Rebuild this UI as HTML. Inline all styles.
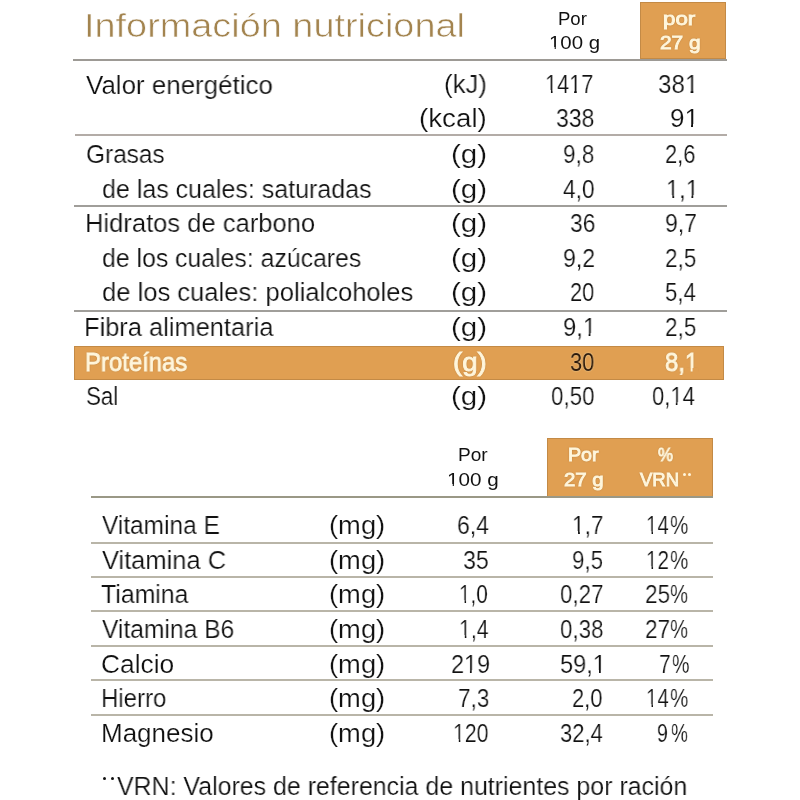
<!DOCTYPE html><html><head><meta charset="utf-8"><style>
html,body{margin:0;padding:0;background:#fff;width:800px;height:800px;overflow:hidden;position:relative}
.t{position:absolute;font-family:"Liberation Sans", sans-serif;line-height:1;white-space:pre;transform-origin:0 0;will-change:transform}
.r{position:absolute}
.o1{position:relative}
.o1::before,.o1::after{content:"";position:absolute;background:var(--bg);bottom:0;height:0.33em}
.o1::before{left:0;width:0.252em}
.o1::after{left:0.338em;width:0.23em}
</style></head><body>
<div class="r" style="left:640.00px;top:2.00px;width:86.00px;height:56.50px;background:#e09f52;box-shadow:inset 0 0 0 1px rgba(140,100,50,0.35);"></div>
<div class="r" style="left:74.20px;top:346.00px;width:650.30px;height:34.00px;background:#e09f52;box-shadow:inset 0 0 0 1px rgba(140,100,50,0.35);"></div>
<div class="r" style="left:546.50px;top:437.50px;width:166.00px;height:59.00px;background:#e09f52;box-shadow:inset 0 0 0 1px rgba(140,100,50,0.35);"></div>
<div class="r" style="left:73.00px;top:58.50px;width:653.50px;height:2.00px;background:#9d9a95;"></div>
<div class="r" style="left:75.00px;top:133.50px;width:651.50px;height:2.00px;background:#b3aca7;"></div>
<div class="r" style="left:73.50px;top:205.00px;width:653.00px;height:2.00px;background:#a09e9a;"></div>
<div class="r" style="left:73.50px;top:310.00px;width:653.00px;height:2.00px;background:#a09e9a;"></div>
<div class="r" style="left:91.00px;top:495.50px;width:621.50px;height:2.00px;background:#9a9886;"></div>
<div class="r" style="left:91.00px;top:541.50px;width:621.50px;height:2.00px;background:#b9b5a8;"></div>
<div class="r" style="left:91.00px;top:575.80px;width:621.50px;height:2.00px;background:#b9b5a8;"></div>
<div class="r" style="left:91.00px;top:610.00px;width:621.50px;height:2.00px;background:#b9b5a8;"></div>
<div class="r" style="left:91.00px;top:644.70px;width:621.50px;height:2.00px;background:#b9b5a8;"></div>
<div class="r" style="left:91.00px;top:679.25px;width:621.50px;height:2.00px;background:#b9b5a8;"></div>
<div class="r" style="left:91.00px;top:714.25px;width:621.50px;height:2.00px;background:#b9b5a8;"></div>
<div class="r" style="left:102.90px;top:776.90px;width:3.20px;height:3.20px;border-radius:50%;background:#111111"></div>
<div class="r" style="left:110.90px;top:776.90px;width:3.20px;height:3.20px;border-radius:50%;background:#111111"></div>
<div class="r" style="left:682.50px;top:473.00px;width:3.00px;height:3.00px;border-radius:50%;background:#fff6dc"></div>
<div class="r" style="left:688.00px;top:473.00px;width:3.00px;height:3.00px;border-radius:50%;background:#fff6dc"></div>
<div class="t" id="i0" style="left:83.85px;top:8.73px;font-size:33.4px;color:#a3844f;-webkit-text-stroke:0.6px #fff;transform:scaleX(1.1339);">Información nutricional</div>
<div class="t" id="i1" style="left:557.87px;top:10.26px;font-size:18px;color:#111111;transform:scaleX(1.0298);">Por</div>
<div class="t" id="i2" style="left:548.80px;top:34.26px;font-size:18px;color:#111111;transform:scaleX(1.1334);"><span class="o1" style="--bg:#fff">1</span>00 g</div>
<div class="t" id="i3" style="left:663.13px;top:10.26px;font-size:18px;color:#fff6dc;-webkit-text-stroke:0.9px #fff6dc;text-shadow:0 0 1.5px rgba(100,60,15,0.75);transform:scaleX(1.2403);">por</div>
<div class="t" id="i4" style="left:660.00px;top:34.26px;font-size:18px;color:#fff6dc;-webkit-text-stroke:0.9px #fff6dc;text-shadow:0 0 1.5px rgba(100,60,15,0.75);transform:scaleX(1.1589);">27 g</div>
<div class="t" id="i5" style="left:86.00px;top:72.09px;font-size:26px;color:#111111;-webkit-text-stroke:0.2px #fff;transform:scaleX(0.9968);">Valor energético</div>
<div class="t" id="i6" style="left:443.76px;top:71.09px;font-size:26px;color:#111111;-webkit-text-stroke:0.2px #fff;transform:scaleX(0.9879);">(kJ)</div>
<div class="t" id="i7" style="left:545.35px;top:71.09px;font-size:26px;color:#111111;-webkit-text-stroke:0.2px #fff;transform:scaleX(0.8334);"><span class="o1" style="--bg:#fff">1</span>4<span class="o1" style="--bg:#fff">1</span>7</div>
<div class="t" id="i8" style="left:657.95px;top:71.09px;font-size:26px;color:#111111;-webkit-text-stroke:0.2px #fff;transform:scaleX(0.9298);">38<span class="o1" style="--bg:#fff">1</span></div>
<div class="t" id="i9" style="left:418.87px;top:105.09px;font-size:26px;color:#111111;-webkit-text-stroke:0.2px #fff;transform:scaleX(1.0667);">(kcal)</div>
<div class="t" id="i10" style="left:556.40px;top:105.09px;font-size:26px;color:#111111;-webkit-text-stroke:0.2px #fff;transform:scaleX(0.8830);">338</div>
<div class="t" id="i11" style="left:670.00px;top:105.09px;font-size:26px;color:#111111;-webkit-text-stroke:0.2px #fff;transform:scaleX(1.0005);">9<span class="o1" style="--bg:#fff">1</span></div>
<div class="t" id="i12" style="left:85.59px;top:141.09px;font-size:26px;color:#111111;-webkit-text-stroke:0.2px #fff;transform:scaleX(0.9391);">Grasas</div>
<div class="t" id="i13" style="left:451.47px;top:141.09px;font-size:26px;color:#111111;-webkit-text-stroke:0.2px #fff;transform:scaleX(1.1357);">(g)</div>
<div class="t" id="i14" style="left:563.14px;top:141.09px;font-size:26px;color:#111111;-webkit-text-stroke:0.2px #fff;transform:scaleX(0.8648);">9,8</div>
<div class="t" id="i15" style="left:664.59px;top:141.09px;font-size:26px;color:#111111;-webkit-text-stroke:0.2px #fff;transform:scaleX(0.8412);">2,6</div>
<div class="t" id="i16" style="left:102.04px;top:175.59px;font-size:26px;color:#111111;-webkit-text-stroke:0.2px #fff;transform:scaleX(0.9612);">de las cuales: saturadas</div>
<div class="t" id="i17" style="left:451.47px;top:175.59px;font-size:26px;color:#111111;-webkit-text-stroke:0.2px #fff;transform:scaleX(1.1357);">(g)</div>
<div class="t" id="i18" style="left:563.27px;top:175.59px;font-size:26px;color:#111111;-webkit-text-stroke:0.2px #fff;transform:scaleX(0.8707);">4,0</div>
<div class="t" id="i19" style="left:665.69px;top:175.59px;font-size:26px;color:#111111;-webkit-text-stroke:0.2px #fff;transform:scaleX(0.9073);"><span class="o1" style="--bg:#fff">1</span>,<span class="o1" style="--bg:#fff">1</span></div>
<div class="t" id="i20" style="left:84.74px;top:209.84px;font-size:26px;color:#111111;-webkit-text-stroke:0.2px #fff;transform:scaleX(0.9827);">Hidratos de carbono</div>
<div class="t" id="i21" style="left:451.47px;top:209.84px;font-size:26px;color:#111111;-webkit-text-stroke:0.2px #fff;transform:scaleX(1.1357);">(g)</div>
<div class="t" id="i22" style="left:569.83px;top:209.84px;font-size:26px;color:#111111;-webkit-text-stroke:0.2px #fff;transform:scaleX(0.8752);">36</div>
<div class="t" id="i23" style="left:665.12px;top:209.84px;font-size:26px;color:#111111;-webkit-text-stroke:0.2px #fff;transform:scaleX(0.8826);">9,7</div>
<div class="t" id="i24" style="left:102.05px;top:244.84px;font-size:26px;color:#111111;-webkit-text-stroke:0.2px #fff;transform:scaleX(0.9541);">de los cuales: azúcares</div>
<div class="t" id="i25" style="left:451.47px;top:244.84px;font-size:26px;color:#111111;-webkit-text-stroke:0.2px #fff;transform:scaleX(1.1357);">(g)</div>
<div class="t" id="i26" style="left:562.96px;top:244.84px;font-size:26px;color:#111111;-webkit-text-stroke:0.2px #fff;transform:scaleX(0.8882);">9,2</div>
<div class="t" id="i27" style="left:665.14px;top:244.84px;font-size:26px;color:#111111;-webkit-text-stroke:0.2px #fff;transform:scaleX(0.8647);">2,5</div>
<div class="t" id="i28" style="left:102.02px;top:279.09px;font-size:26px;color:#111111;-webkit-text-stroke:0.2px #fff;transform:scaleX(0.9834);">de los cuales: polialcoholes</div>
<div class="t" id="i29" style="left:451.47px;top:279.09px;font-size:26px;color:#111111;-webkit-text-stroke:0.2px #fff;transform:scaleX(1.1357);">(g)</div>
<div class="t" id="i30" style="left:569.88px;top:279.09px;font-size:26px;color:#111111;-webkit-text-stroke:0.2px #fff;transform:scaleX(0.8371);">20</div>
<div class="t" id="i31" style="left:665.15px;top:279.09px;font-size:26px;color:#111111;-webkit-text-stroke:0.2px #fff;transform:scaleX(0.8532);">5,4</div>
<div class="t" id="i32" style="left:84.45px;top:313.59px;font-size:26px;color:#111111;-webkit-text-stroke:0.2px #fff;transform:scaleX(0.9781);">Fibra alimentaria</div>
<div class="t" id="i33" style="left:451.47px;top:313.59px;font-size:26px;color:#111111;-webkit-text-stroke:0.2px #fff;transform:scaleX(1.1357);">(g)</div>
<div class="t" id="i34" style="left:563.09px;top:313.59px;font-size:26px;color:#111111;-webkit-text-stroke:0.2px #fff;transform:scaleX(0.9134);">9,<span class="o1" style="--bg:#fff">1</span></div>
<div class="t" id="i35" style="left:665.14px;top:313.59px;font-size:26px;color:#111111;-webkit-text-stroke:0.2px #fff;transform:scaleX(0.8647);">2,5</div>
<div class="t" id="i36" style="left:84.87px;top:349.09px;font-size:26px;color:#fff6dc;-webkit-text-stroke:0.9px #fff6dc;text-shadow:0 0 1.5px rgba(100,60,15,0.75);transform:scaleX(0.9193);">Proteínas</div>
<div class="t" id="i37" style="left:452.71px;top:349.09px;font-size:26px;color:#fff6dc;-webkit-text-stroke:0.9px #fff6dc;text-shadow:0 0 1.5px rgba(100,60,15,0.75);transform:scaleX(1.0600);">(g)</div>
<div class="t" id="i38" style="left:570.16px;top:349.09px;font-size:26px;color:#2e1a0a;text-shadow:0 0 1.5px rgba(255,240,200,1);transform:scaleX(0.8371);">30</div>
<div class="t" id="i39" style="left:664.81px;top:349.09px;font-size:26px;color:#fff6dc;-webkit-text-stroke:0.9px #fff6dc;text-shadow:0 0 1.5px rgba(100,60,15,0.75);transform:scaleX(0.9167);">8,<span class="o1" style="--bg:#e09f52">1</span></div>
<div class="t" id="i40" style="left:85.97px;top:383.09px;font-size:26px;color:#111111;-webkit-text-stroke:0.2px #fff;transform:scaleX(0.8596);">Sal</div>
<div class="t" id="i41" style="left:451.47px;top:383.09px;font-size:26px;color:#111111;-webkit-text-stroke:0.2px #fff;transform:scaleX(1.1357);">(g)</div>
<div class="t" id="i42" style="left:550.85px;top:383.09px;font-size:26px;color:#111111;-webkit-text-stroke:0.2px #fff;transform:scaleX(0.8593);">0,50</div>
<div class="t" id="i43" style="left:652.44px;top:383.09px;font-size:26px;color:#111111;-webkit-text-stroke:0.2px #fff;transform:scaleX(0.8470);">0,<span class="o1" style="--bg:#fff">1</span>4</div>
<div class="t" id="i44" style="left:457.55px;top:446.46px;font-size:18px;color:#111111;transform:scaleX(1.0594);">Por</div>
<div class="t" id="i45" style="left:447.39px;top:471.26px;font-size:18px;color:#111111;transform:scaleX(1.1476);"><span class="o1" style="--bg:#fff">1</span>00 g</div>
<div class="t" id="i46" style="left:568.37px;top:446.46px;font-size:18px;color:#fff6dc;-webkit-text-stroke:0.9px #fff6dc;text-shadow:0 0 1.5px rgba(100,60,15,0.75);transform:scaleX(1.0927);">Por</div>
<div class="t" id="i47" style="left:564.21px;top:471.26px;font-size:18px;color:#fff6dc;-webkit-text-stroke:0.9px #fff6dc;text-shadow:0 0 1.5px rgba(100,60,15,0.75);transform:scaleX(1.1324);">27 g</div>
<div class="t" id="i48" style="left:658.27px;top:446.46px;font-size:18px;color:#fff6dc;-webkit-text-stroke:0.9px #fff6dc;text-shadow:0 0 1.5px rgba(100,60,15,0.75);transform:scaleX(0.9375);">%</div>
<div class="t" id="i49" style="left:640.48px;top:471.26px;font-size:18px;color:#fff6dc;-webkit-text-stroke:0.9px #fff6dc;text-shadow:0 0 1.5px rgba(100,60,15,0.75);transform:scaleX(1.0272);">VRN</div>
<div class="t" id="i50" style="left:102.00px;top:512.39px;font-size:26px;color:#111111;-webkit-text-stroke:0.2px #fff;transform:scaleX(0.9403);">Vitamina E</div>
<div class="t" id="i51" style="left:328.98px;top:512.39px;font-size:26px;color:#111111;-webkit-text-stroke:0.2px #fff;transform:scaleX(1.0520);">(mg)</div>
<div class="t" id="i52" style="left:456.54px;top:512.39px;font-size:26px;color:#111111;-webkit-text-stroke:0.2px #fff;transform:scaleX(0.8824);">6,4</div>
<div class="t" id="i53" style="left:571.97px;top:512.39px;font-size:26px;color:#111111;-webkit-text-stroke:0.2px #fff;transform:scaleX(0.8688);"><span class="o1" style="--bg:#fff">1</span>,7</div>
<div class="t" id="i54" style="left:645.91px;top:512.39px;font-size:26px;color:#111111;-webkit-text-stroke:0.2px #fff;transform:scaleX(0.7866);"><span class="o1" style="--bg:#fff">1</span>4</div>
<div class="t" id="i55" style="left:669.78px;top:512.39px;font-size:26px;color:#111111;-webkit-text-stroke:0.2px #fff;transform:scaleX(0.7906);">%</div>
<div class="t" id="i56" style="left:102.00px;top:547.39px;font-size:26px;color:#111111;-webkit-text-stroke:0.2px #fff;transform:scaleX(0.9792);">Vitamina C</div>
<div class="t" id="i57" style="left:328.98px;top:547.39px;font-size:26px;color:#111111;-webkit-text-stroke:0.2px #fff;transform:scaleX(1.0520);">(mg)</div>
<div class="t" id="i58" style="left:462.53px;top:547.39px;font-size:26px;color:#111111;-webkit-text-stroke:0.2px #fff;transform:scaleX(0.8889);">35</div>
<div class="t" id="i59" style="left:572.14px;top:547.39px;font-size:26px;color:#111111;-webkit-text-stroke:0.2px #fff;transform:scaleX(0.8588);">9,5</div>
<div class="t" id="i60" style="left:646.21px;top:547.39px;font-size:26px;color:#111111;-webkit-text-stroke:0.2px #fff;transform:scaleX(0.7927);"><span class="o1" style="--bg:#fff">1</span>2</div>
<div class="t" id="i61" style="left:669.78px;top:547.39px;font-size:26px;color:#111111;-webkit-text-stroke:0.2px #fff;transform:scaleX(0.7906);">%</div>
<div class="t" id="i62" style="left:101.04px;top:581.49px;font-size:26px;color:#111111;-webkit-text-stroke:0.2px #fff;transform:scaleX(0.9556);">Tiamina</div>
<div class="t" id="i63" style="left:328.98px;top:581.49px;font-size:26px;color:#111111;-webkit-text-stroke:0.2px #fff;transform:scaleX(1.0520);">(mg)</div>
<div class="t" id="i64" style="left:459.45px;top:581.49px;font-size:26px;color:#111111;-webkit-text-stroke:0.2px #fff;transform:scaleX(0.7945);"><span class="o1" style="--bg:#fff">1</span>,0</div>
<div class="t" id="i65" style="left:560.14px;top:581.49px;font-size:26px;color:#111111;-webkit-text-stroke:0.2px #fff;transform:scaleX(0.8583);">0,27</div>
<div class="t" id="i66" style="left:645.42px;top:581.49px;font-size:26px;color:#111111;-webkit-text-stroke:0.2px #fff;transform:scaleX(0.8667);">25</div>
<div class="t" id="i67" style="left:670.07px;top:581.49px;font-size:26px;color:#111111;-webkit-text-stroke:0.2px #fff;transform:scaleX(0.7812);">%</div>
<div class="t" id="i68" style="left:102.00px;top:615.99px;font-size:26px;color:#111111;-webkit-text-stroke:0.2px #fff;transform:scaleX(0.9464);">Vitamina B6</div>
<div class="t" id="i69" style="left:328.98px;top:615.99px;font-size:26px;color:#111111;-webkit-text-stroke:0.2px #fff;transform:scaleX(1.0520);">(mg)</div>
<div class="t" id="i70" style="left:458.82px;top:615.99px;font-size:26px;color:#111111;-webkit-text-stroke:0.2px #fff;transform:scaleX(0.8166);"><span class="o1" style="--bg:#fff">1</span>,4</div>
<div class="t" id="i71" style="left:560.14px;top:615.99px;font-size:26px;color:#111111;-webkit-text-stroke:0.2px #fff;transform:scaleX(0.8583);">0,38</div>
<div class="t" id="i72" style="left:645.42px;top:615.99px;font-size:26px;color:#111111;-webkit-text-stroke:0.2px #fff;transform:scaleX(0.8667);">27</div>
<div class="t" id="i73" style="left:670.07px;top:615.99px;font-size:26px;color:#111111;-webkit-text-stroke:0.2px #fff;transform:scaleX(0.7812);">%</div>
<div class="t" id="i74" style="left:101.48px;top:650.99px;font-size:26px;color:#111111;-webkit-text-stroke:0.2px #fff;transform:scaleX(1.0143);">Calcio</div>
<div class="t" id="i75" style="left:328.98px;top:650.99px;font-size:26px;color:#111111;-webkit-text-stroke:0.2px #fff;transform:scaleX(1.0520);">(mg)</div>
<div class="t" id="i76" style="left:450.95px;top:650.99px;font-size:26px;color:#111111;-webkit-text-stroke:0.2px #fff;transform:scaleX(0.8977);">2<span class="o1" style="--bg:#fff">1</span>9</div>
<div class="t" id="i77" style="left:559.80px;top:650.99px;font-size:26px;color:#111111;-webkit-text-stroke:0.2px #fff;transform:scaleX(0.9046);">59,<span class="o1" style="--bg:#fff">1</span></div>
<div class="t" id="i78" style="left:658.79px;top:650.99px;font-size:26px;color:#111111;-webkit-text-stroke:0.2px #fff;transform:scaleX(0.8003);">7</div>
<div class="t" id="i79" style="left:671.52px;top:650.99px;font-size:26px;color:#111111;-webkit-text-stroke:0.2px #fff;transform:scaleX(0.7524);">%</div>
<div class="t" id="i80" style="left:100.88px;top:685.49px;font-size:26px;color:#111111;-webkit-text-stroke:0.2px #fff;transform:scaleX(0.9239);">Hierro</div>
<div class="t" id="i81" style="left:328.98px;top:685.49px;font-size:26px;color:#111111;-webkit-text-stroke:0.2px #fff;transform:scaleX(1.0520);">(mg)</div>
<div class="t" id="i82" style="left:457.56px;top:685.49px;font-size:26px;color:#111111;-webkit-text-stroke:0.2px #fff;transform:scaleX(0.8647);">7,3</div>
<div class="t" id="i83" style="left:572.30px;top:685.49px;font-size:26px;color:#111111;-webkit-text-stroke:0.2px #fff;transform:scaleX(0.8412);">2,0</div>
<div class="t" id="i84" style="left:645.91px;top:685.49px;font-size:26px;color:#111111;-webkit-text-stroke:0.2px #fff;transform:scaleX(0.7866);"><span class="o1" style="--bg:#fff">1</span>4</div>
<div class="t" id="i85" style="left:669.78px;top:685.49px;font-size:26px;color:#111111;-webkit-text-stroke:0.2px #fff;transform:scaleX(0.7906);">%</div>
<div class="t" id="i86" style="left:101.00px;top:720.24px;font-size:26px;color:#111111;-webkit-text-stroke:0.2px #fff;">Magnesio</div>
<div class="t" id="i87" style="left:328.98px;top:720.24px;font-size:26px;color:#111111;-webkit-text-stroke:0.2px #fff;transform:scaleX(1.0520);">(mg)</div>
<div class="t" id="i88" style="left:452.96px;top:720.24px;font-size:26px;color:#111111;-webkit-text-stroke:0.2px #fff;transform:scaleX(0.8163);"><span class="o1" style="--bg:#fff">1</span>20</div>
<div class="t" id="i89" style="left:559.87px;top:720.24px;font-size:26px;color:#111111;-webkit-text-stroke:0.2px #fff;transform:scaleX(0.8449);">32,4</div>
<div class="t" id="i90" style="left:657.35px;top:720.24px;font-size:26px;color:#111111;-webkit-text-stroke:0.2px #fff;transform:scaleX(0.7500);">9</div>
<div class="t" id="i91" style="left:671.10px;top:720.24px;font-size:26px;color:#111111;-webkit-text-stroke:0.2px #fff;transform:scaleX(0.7336);">%</div>
<div class="t" id="i92" style="left:116.52px;top:772.74px;font-size:26px;color:#111111;-webkit-text-stroke:0.2px #fff;transform:scaleX(0.9585);">VRN: Valores de referencia de nutrientes por ración</div>
</body></html>
